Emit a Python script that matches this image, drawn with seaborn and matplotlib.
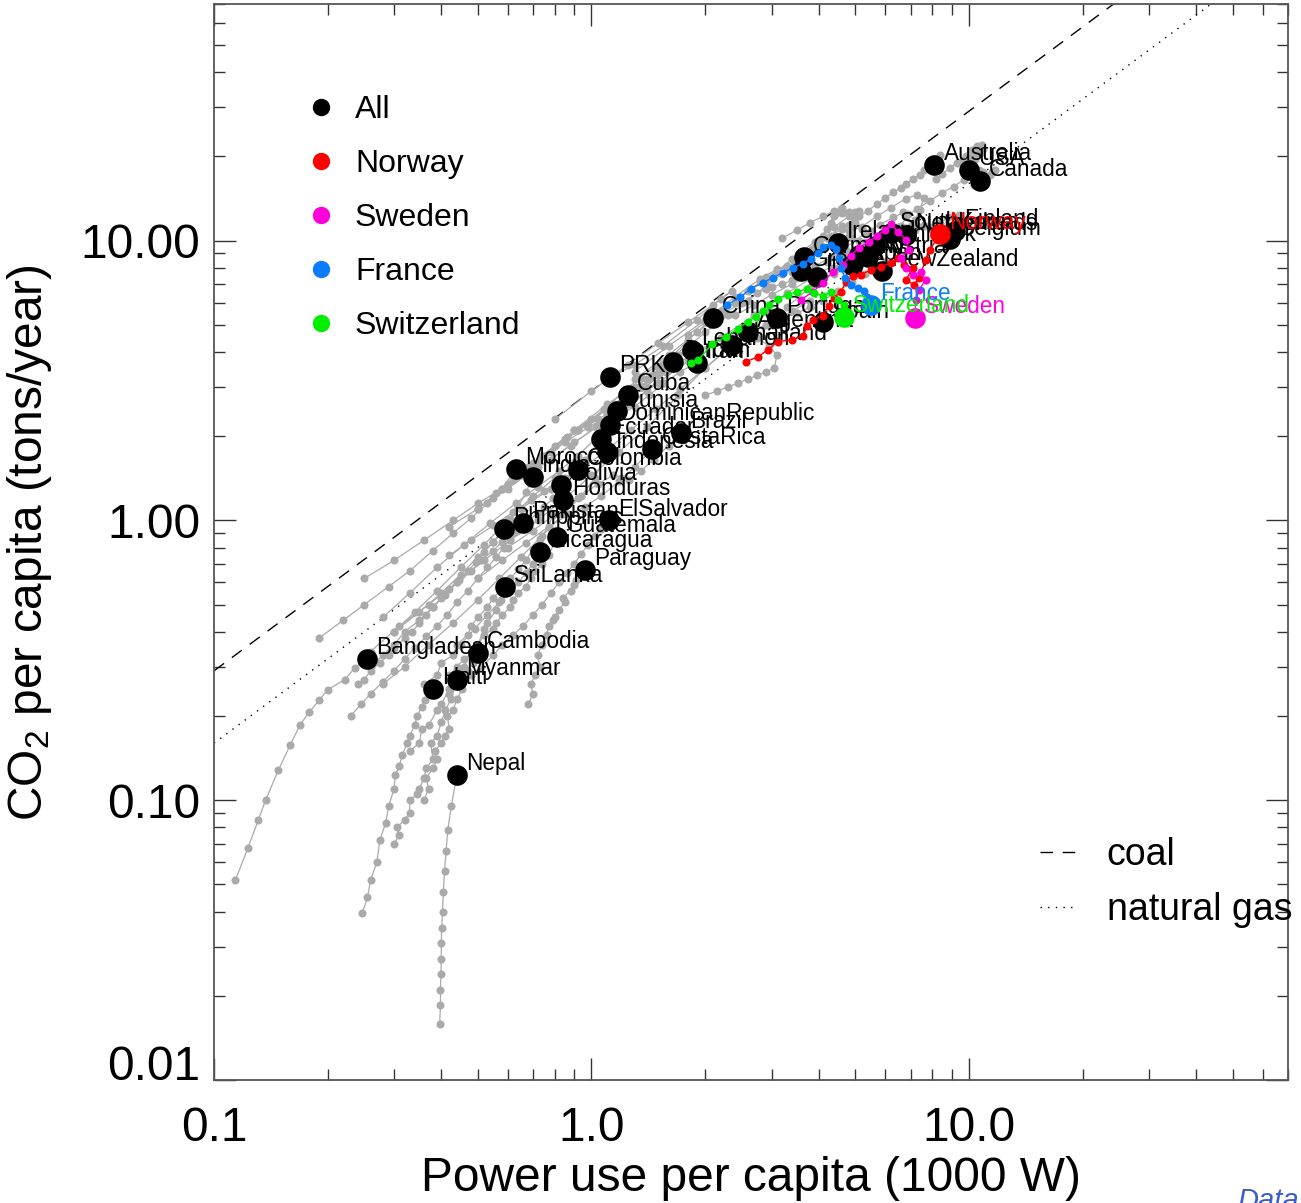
import numpy as np
import pandas as pd
import matplotlib
matplotlib.use("Agg")
import matplotlib.pyplot as plt
from matplotlib.lines import Line2D
from matplotlib.ticker import LogLocator, NullFormatter
import seaborn as sns

# CO2 emitted per year by one kW of continuous primary power (tons)
coal_factor = 2.9
gas_factor = 1.6

# Country histories: power use per capita (kW) and CO2 per capita (t/yr),
# oldest year first; the last entry is the most recent year.
gray_names = [
    "USA", "Canada", "Australia", "Finland", "Belgium", "Netherlands",
    "SouthKorea", "Ireland", "Germany", "NewZealand", "Japan", "UK",
    "Austria", "Denmark", "Italy", "Greece", "Spain", "Portugal", "China",
    "Argentina", "Thailand", "Lebanon", "Jordan", "Iran", "PRK", "Cuba",
    "Tunisia", "DominicanRepublic", "Ecuador", "Indonesia", "Brazil",
    "CostaRica", "Morocco", "India", "Colombia", "Bolivia", "Honduras",
    "Pakistan", "Philippines", "ElSalvador", "Guatemala", "Nicaragua",
    "Paraguay", "SriLanka", "Bangladesh", "Cambodia", "Myanmar", "Haiti",
    "Nepal",
]
gray_power = [
    [8.2, 8.5, 8.9, 9.3, 9.8, 10.2, 10.5, 10.3, 10.6, 10.8, 10.4, 9.9, 9.6, 9.7, 10.0, 10.3, 10.6, 10.9, 10.7, 10.4, 10.0],
    [6.8, 7.3, 7.9, 8.5, 9.1, 9.7, 10.2, 10.6, 10.9, 10.5, 10.3, 10.7, 11.0, 11.4, 11.7, 11.5, 11.1, 10.7],
    [4.2, 4.6, 5.0, 5.4, 5.7, 6.0, 6.3, 6.6, 6.8, 7.1, 7.4, 7.6, 7.9, 8.2, 8.4, 8.1],
    [3.3, 3.8, 4.4, 5.0, 5.6, 6.1, 6.5, 6.8, 7.2, 7.6, 8.0, 8.4, 8.8, 9.4, 9.2],
    [5.2, 5.7, 6.2, 6.8, 7.3, 7.6, 7.4, 7.2, 7.3, 7.6, 8.0, 8.4, 8.8, 8.9],
    [4.2, 4.7, 5.3, 5.8, 6.3, 6.7, 6.9, 6.6, 6.5, 6.8, 7.0, 7.2, 7.1, 6.8],
    [0.42, 0.5, 0.6, 0.72, 0.88, 1.05, 1.25, 1.5, 1.8, 2.2, 2.7, 3.3, 4.0, 4.7, 5.4, 6.2],
    [1.8, 2.0, 2.2, 2.4, 2.6, 2.8, 2.9, 3.1, 3.3, 3.6, 3.9, 4.3, 4.6, 4.5],
    [3.2, 3.5, 3.8, 4.1, 4.4, 4.6, 4.5, 4.4, 4.3, 4.2, 4.1, 4.0, 3.85, 3.65],
    [2.6, 2.9, 3.2, 3.5, 3.8, 4.1, 4.5, 4.9, 5.3, 5.6, 6.0, 5.9],
    [1.3, 1.6, 2.0, 2.4, 2.8, 3.1, 3.3, 3.4, 3.6, 3.9, 4.3, 4.6, 4.8, 4.9],
    [4.4, 4.6, 4.8, 5.0, 5.1, 5.0, 4.8, 4.8, 4.9, 5.1, 5.3, 5.4, 5.3, 5.1],
    [2.4, 2.7, 3.0, 3.4, 3.7, 3.9, 4.1, 4.4, 4.7, 5.0, 5.3, 5.4],
    [2.9, 3.4, 3.9, 4.4, 4.8, 5.1, 5.0, 4.8, 4.9, 5.2, 5.5, 5.8, 5.65],
    [1.3, 1.6, 1.9, 2.2, 2.5, 2.75, 2.9, 3.0, 3.2, 3.4, 3.6, 3.85, 3.95],
    [0.7, 0.9, 1.1, 1.4, 1.7, 2.0, 2.3, 2.6, 2.9, 3.2, 3.5, 3.6],
    [0.9, 1.1, 1.35, 1.6, 1.9, 2.2, 2.45, 2.7, 3.0, 3.4, 3.8, 4.1],
    [0.65, 0.78, 0.92, 1.08, 1.27, 1.48, 1.72, 2.0, 2.3, 2.6, 2.95, 3.1],
    [0.5, 0.56, 0.62, 0.68, 0.74, 0.8, 0.86, 0.92, 0.98, 1.04, 1.1, 1.2, 1.35, 1.55, 1.8, 2.1],
    [2.0, 2.15, 2.3, 2.45, 2.6, 2.75, 2.9, 3.05, 3.1, 2.95, 2.75, 2.6],
    [0.26, 0.31, 0.37, 0.44, 0.52, 0.61, 0.72, 0.85, 1.0, 1.18, 1.4, 1.7, 2.0, 2.35],
    [1.0, 1.15, 1.3, 1.45, 1.55, 1.4, 1.5, 1.65, 1.8, 1.85],
    [0.55, 0.65, 0.78, 0.92, 1.08, 1.22, 1.35, 1.48, 1.6, 1.64],
    [0.6, 0.72, 0.85, 0.98, 1.1, 1.2, 1.3, 1.42, 1.56, 1.72, 1.9],
    [0.8, 1.0, 1.25, 1.5, 1.8, 2.1, 2.35, 2.2, 1.9, 1.55, 1.3, 1.12],
    [0.75, 0.85, 0.97, 1.1, 1.22, 1.35, 1.5, 1.58, 1.4, 1.28, 1.25],
    [0.25, 0.3, 0.36, 0.43, 0.5, 0.58, 0.67, 0.78, 0.9, 1.03, 1.17],
    [0.28, 0.33, 0.39, 0.46, 0.54, 0.63, 0.72, 0.82, 0.92, 1.02, 1.12],
    [0.3, 0.34, 0.39, 0.45, 0.52, 0.6, 0.7, 0.8, 0.88, 0.96, 1.06],
    [0.28, 0.32, 0.37, 0.43, 0.5, 0.57, 0.65, 0.74, 0.84, 0.94, 1.02, 1.1],
    [0.6, 0.7, 0.8, 0.92, 1.04, 1.14, 1.2, 1.26, 1.35, 1.46, 1.6, 1.73],
    [0.5, 0.58, 0.67, 0.77, 0.87, 0.96, 1.06, 1.18, 1.3, 1.45],
    [0.19, 0.22, 0.25, 0.29, 0.33, 0.38, 0.43, 0.48, 0.53, 0.58, 0.63],
    [0.24, 0.25, 0.26, 0.275, 0.29, 0.3, 0.32, 0.335, 0.35, 0.365, 0.38, 0.4, 0.42, 0.445, 0.47, 0.495, 0.52, 0.55, 0.58, 0.61, 0.64, 0.67, 0.7],
    [0.42, 0.48, 0.55, 0.62, 0.69, 0.75, 0.8, 0.85, 0.89, 0.92],
    [0.26, 0.28, 0.3, 0.32, 0.35, 0.38, 0.41, 0.44, 0.48, 0.51, 0.55, 0.58, 0.62, 0.65, 0.68, 0.72, 0.75, 0.79, 0.83],
    [0.36, 0.39, 0.4, 0.43, 0.44, 0.47, 0.48, 0.5, 0.53, 0.55, 0.58, 0.61, 0.64, 0.67, 0.7, 0.73, 0.77, 0.79, 0.84],
    [0.23, 0.245, 0.26, 0.28, 0.3, 0.32, 0.34, 0.365, 0.39, 0.415, 0.44, 0.47, 0.5, 0.53, 0.56, 0.585, 0.61, 0.635, 0.66],
    [0.3, 0.35, 0.4, 0.45, 0.5, 0.55, 0.59, 0.61, 0.6, 0.585],
    [0.42, 0.45, 0.48, 0.51, 0.55, 0.58, 0.62, 0.66, 0.7, 0.74, 0.78, 0.82, 0.86, 0.9, 0.94, 0.98, 1.02, 1.06, 1.11],
    [0.42, 0.44, 0.46, 0.49, 0.5, 0.52, 0.55, 0.56, 0.58, 0.61, 0.62, 0.64, 0.67, 0.69, 0.71, 0.74, 0.77, 0.81],
    [0.45, 0.49, 0.53, 0.57, 0.61, 0.64, 0.67, 0.7, 0.72, 0.73],
    [0.68, 0.7, 0.69, 0.71, 0.73, 0.72, 0.74, 0.76, 0.77, 0.79, 0.8, 0.82, 0.85, 0.84, 0.88, 0.9, 0.91, 0.94, 0.96],
    [0.33, 0.35, 0.355, 0.37, 0.39, 0.40, 0.42, 0.44, 0.445, 0.46, 0.48, 0.5, 0.52, 0.53, 0.56, 0.575, 0.59],
    [0.114, 0.123, 0.131, 0.137, 0.148, 0.159, 0.169, 0.179, 0.19, 0.2, 0.222, 0.236, 0.254],
    [0.36, 0.37, 0.365, 0.38, 0.39, 0.385, 0.40, 0.41, 0.42, 0.415, 0.43, 0.44, 0.455, 0.45, 0.47, 0.485, 0.5],
    [0.3, 0.31, 0.305, 0.32, 0.33, 0.33, 0.345, 0.35, 0.36, 0.365, 0.38, 0.375, 0.39, 0.4, 0.41, 0.425, 0.44],
    [0.247, 0.255, 0.26, 0.27, 0.275, 0.285, 0.29, 0.30, 0.302, 0.31, 0.315, 0.325, 0.33, 0.34, 0.345, 0.355, 0.362, 0.37, 0.38],
    [0.396, 0.398, 0.398, 0.399, 0.4, 0.4, 0.401, 0.403, 0.405, 0.408, 0.412, 0.416, 0.425, 0.44],
]
gray_co2 = [
    [16.6, 17.3, 18.2, 19.0, 20.1, 21.0, 21.7, 21.0, 21.6, 22.0, 21.2, 19.9, 19.2, 19.4, 19.8, 20.3, 20.8, 21.2, 20.6, 19.6, 17.9],
    [12.2, 13.0, 13.9, 14.8, 15.6, 16.5, 17.2, 17.8, 17.6, 16.5, 15.8, 16.2, 16.6, 17.2, 17.9, 17.6, 17.0, 16.3],
    [10.2, 11.0, 11.9, 12.8, 13.5, 14.2, 14.9, 15.4, 15.9, 16.6, 17.2, 17.9, 18.7, 19.6, 20.3, 18.7],
    [5.8, 6.8, 8.0, 9.1, 10.0, 10.8, 11.2, 10.6, 10.9, 11.3, 11.0, 11.6, 12.1, 12.3, 10.8],
    [11.2, 12.2, 13.1, 14.1, 14.6, 14.2, 12.9, 11.8, 11.3, 11.4, 11.2, 11.1, 10.9, 10.1],
    [8.4, 9.4, 10.6, 11.4, 12.1, 12.6, 12.4, 11.3, 10.9, 11.1, 11.3, 11.5, 11.2, 10.5],
    [0.95, 1.1, 1.3, 1.55, 1.85, 2.2, 2.6, 3.1, 3.7, 4.5, 5.4, 6.5, 7.6, 8.7, 9.6, 10.6],
    [4.6, 5.1, 5.6, 6.0, 6.6, 7.1, 7.4, 7.8, 8.1, 8.6, 9.4, 10.4, 11.3, 9.8],
    [10.2, 10.9, 11.6, 12.2, 12.8, 13.1, 12.7, 12.3, 11.6, 11.0, 10.4, 9.9, 9.3, 8.7],
    [4.7, 5.0, 5.3, 5.5, 5.8, 6.1, 6.6, 7.1, 7.6, 8.1, 8.4, 7.8],
    [3.4, 4.2, 5.2, 6.3, 7.3, 7.9, 8.0, 7.7, 7.7, 8.1, 8.7, 9.0, 9.1, 8.2],
    [12.2, 12.5, 12.7, 12.6, 12.2, 11.6, 10.8, 10.4, 10.2, 10.0, 9.9, 9.7, 9.5, 8.9],
    [5.4, 5.9, 6.4, 7.0, 7.4, 7.6, 7.4, 7.6, 7.9, 8.5, 9.1, 8.7],
    [7.2, 8.6, 9.9, 11.2, 12.2, 12.8, 12.3, 11.4, 11.1, 11.0, 10.8, 10.5, 9.6],
    [3.2, 3.9, 4.7, 5.4, 6.0, 6.5, 6.7, 6.8, 7.0, 7.2, 7.5, 7.8, 7.4],
    [1.6, 2.1, 2.6, 3.2, 3.9, 4.7, 5.4, 6.1, 6.9, 7.6, 8.4, 7.8],
    [2.1, 2.5, 3.0, 3.5, 4.0, 4.5, 4.7, 4.8, 5.1, 5.6, 6.1, 5.1],
    [1.1, 1.3, 1.5, 1.75, 2.1, 2.5, 2.95, 3.5, 4.1, 4.8, 5.6, 5.3],
    [1.1, 1.25, 1.4, 1.55, 1.7, 1.85, 1.98, 2.1, 2.2, 2.3, 2.4, 2.6, 3.0, 3.6, 4.4, 5.3],
    [2.8, 2.9, 3.0, 3.1, 3.2, 3.3, 3.4, 3.5, 3.9, 4.2, 4.5, 4.7],
    [0.34, 0.42, 0.5, 0.6, 0.72, 0.85, 1.0, 1.2, 1.45, 1.75, 2.15, 2.8, 3.5, 4.25],
    [2.3, 2.6, 3.0, 3.3, 3.5, 3.0, 3.3, 3.8, 4.3, 4.07],
    [1.2, 1.45, 1.75, 2.1, 2.5, 2.9, 3.25, 3.55, 3.85, 3.69],
    [1.35, 1.6, 1.9, 2.15, 2.35, 2.4, 2.55, 2.8, 3.1, 3.4, 3.66],
    [2.3, 2.9, 3.6, 4.3, 5.1, 5.9, 6.6, 6.2, 5.2, 4.2, 3.6, 3.25],
    [1.7, 1.95, 2.2, 2.5, 2.75, 3.0, 3.3, 3.4, 2.9, 2.6, 2.8],
    [0.62, 0.72, 0.85, 1.0, 1.15, 1.3, 1.45, 1.65, 1.9, 2.15, 2.45],
    [0.45, 0.55, 0.68, 0.82, 0.98, 1.15, 1.32, 1.5, 1.7, 1.95, 2.2],
    [0.4, 0.47, 0.56, 0.68, 0.82, 1.0, 1.22, 1.42, 1.55, 1.65, 1.95],
    [0.26, 0.3, 0.36, 0.43, 0.52, 0.62, 0.74, 0.88, 1.05, 1.22, 1.42, 1.75],
    [0.8, 0.92, 1.05, 1.2, 1.35, 1.45, 1.42, 1.4, 1.5, 1.65, 1.85, 2.05],
    [0.62, 0.72, 0.83, 0.95, 1.05, 1.12, 1.22, 1.38, 1.55, 1.8],
    [0.38, 0.44, 0.5, 0.58, 0.66, 0.78, 0.9, 1.02, 1.15, 1.3, 1.53],
    [0.26, 0.27, 0.29, 0.31, 0.33, 0.35, 0.38, 0.4, 0.43, 0.46, 0.49, 0.53, 0.57, 0.61, 0.66, 0.71, 0.77, 0.84, 0.92, 1.01, 1.12, 1.26, 1.43],
    [0.75, 0.85, 0.96, 1.07, 1.18, 1.27, 1.35, 1.42, 1.47, 1.51],
    [0.3, 0.33, 0.36, 0.4, 0.44, 0.49, 0.54, 0.6, 0.66, 0.72, 0.78, 0.84, 0.9, 0.95, 1.0, 1.06, 1.12, 1.2, 1.34],
    [0.26, 0.28, 0.31, 0.33, 0.36, 0.39, 0.42, 0.45, 0.49, 0.53, 0.57, 0.62, 0.67, 0.72, 0.79, 0.86, 0.95, 1.05, 1.18],
    [0.2, 0.22, 0.24, 0.265, 0.29, 0.32, 0.35, 0.385, 0.42, 0.46, 0.51, 0.56, 0.62, 0.68, 0.74, 0.8, 0.86, 0.92, 0.98],
    [0.4, 0.47, 0.55, 0.64, 0.74, 0.84, 0.92, 0.97, 0.95, 0.93],
    [0.24, 0.26, 0.28, 0.3, 0.33, 0.36, 0.39, 0.42, 0.46, 0.5, 0.55, 0.6, 0.65, 0.7, 0.76, 0.82, 0.88, 0.93, 1.0],
    [0.28, 0.3, 0.32, 0.34, 0.36, 0.39, 0.41, 0.43, 0.46, 0.49, 0.52, 0.55, 0.58, 0.62, 0.66, 0.7, 0.75, 0.87],
    [0.36, 0.41, 0.46, 0.51, 0.56, 0.6, 0.65, 0.7, 0.74, 0.77],
    [0.22, 0.24, 0.26, 0.28, 0.3, 0.33, 0.36, 0.39, 0.42, 0.44, 0.45, 0.48, 0.51, 0.53, 0.56, 0.59, 0.61, 0.63, 0.665],
    [0.15, 0.16, 0.18, 0.185, 0.21, 0.22, 0.25, 0.26, 0.29, 0.3, 0.34, 0.36, 0.41, 0.43, 0.48, 0.52, 0.58],
    [0.052, 0.0675, 0.085, 0.1, 0.128, 0.157, 0.186, 0.207, 0.228, 0.248, 0.27, 0.297, 0.32],
    [0.1, 0.11, 0.12, 0.13, 0.14, 0.15, 0.16, 0.17, 0.18, 0.2, 0.21, 0.23, 0.25, 0.27, 0.29, 0.31, 0.335],
    [0.07, 0.075, 0.08, 0.085, 0.09, 0.1, 0.105, 0.11, 0.12, 0.13, 0.14, 0.16, 0.17, 0.19, 0.21, 0.23, 0.27],
    [0.0395, 0.045, 0.052, 0.06, 0.072, 0.083, 0.095, 0.11, 0.123, 0.133, 0.145, 0.16, 0.17, 0.185, 0.2, 0.215, 0.229, 0.24, 0.25],
    [0.0158, 0.0185, 0.021, 0.024, 0.027, 0.031, 0.035, 0.04, 0.047, 0.056, 0.066, 0.078, 0.095, 0.123],
]

# Highlighted countries
norway_power = [2.56, 2.76, 2.93, 3.11, 3.39, 3.63, 3.72, 3.86, 4.10, 4.25, 4.38,
                4.58, 4.72, 4.92, 5.17, 5.50, 5.84, 6.21, 6.48, 6.72, 7.10, 6.81,
                7.15, 7.37, 7.69, 7.88, 8.38]
norway_co2 = [3.69, 3.84, 4.07, 4.35, 4.42, 4.57, 4.96, 5.21, 5.38, 5.85, 6.25,
              6.56, 7.12, 7.48, 7.55, 7.86, 8.06, 8.33, 8.68, 8.19, 7.99, 7.24,
              6.95, 7.36, 8.54, 9.27, 10.57]
sweden_power = [3.58, 3.86, 4.10, 4.36, 4.63, 4.86, 5.11, 5.43, 5.70, 5.99, 6.21,
                6.48, 6.81, 6.93, 6.60, 6.81, 7.10, 7.46, 7.69, 7.37, 7.23, 7.19]
sweden_co2 = [6.14, 6.56, 7.07, 7.73, 8.19, 8.82, 9.42, 9.90, 10.40, 10.93, 11.48,
              10.75, 10.07, 9.27, 8.68, 7.99, 7.55, 7.73, 7.24, 6.67, 6.14, 5.30]
france_power = [2.29, 2.48, 2.64, 2.84, 3.02, 3.21, 3.41, 3.63, 3.81, 3.98, 4.10,
                4.31, 4.44, 4.52, 4.58, 4.69, 4.86, 5.08, 5.27, 5.36, 5.50]
france_co2 = [5.89, 6.30, 6.72, 7.07, 7.36, 7.67, 7.99, 8.26, 8.61, 9.04, 9.50,
              9.66, 9.35, 8.68, 7.99, 7.36, 6.95, 6.78, 6.61, 6.30, 5.89]
swiss_power = [1.83, 1.92, 2.09, 2.27, 2.44, 2.59, 2.72, 2.84, 2.95, 3.11, 3.31,
               3.50, 3.72, 3.88, 4.10, 4.31, 4.49, 4.66, 4.66]
swiss_co2 = [3.66, 3.75, 4.28, 4.53, 4.84, 5.13, 5.34, 5.61, 5.89, 6.19, 6.40,
             6.56, 6.72, 6.51, 6.35, 6.56, 6.14, 5.89, 5.34]

highlight_names = ["Norway", "Sweden", "France", "Switzerland"]
highlight_colors = ["#ff0000", "#ff00dc", "#0a7cff", "#00ee00"]

legend_labels = ["All", "Norway", "Sweden", "France", "Switzerland"]
legend_colors = ["#000000", "#ff0000", "#ff00dc", "#0a7cff", "#00ee00"]

x_ticks = [0.1, 1.0, 10.0]
x_tick_labels = ["0.1", "1.0", "10.0"]
y_ticks = [0.01, 0.1, 1.0, 10.0]
y_tick_labels = ["0.01", "0.10", "1.00", "10.00"]

sns.set_theme(style="ticks")
plt.rcParams["font.family"] = ["Liberation Sans", "DejaVu Sans"]
plt.rcParams["mathtext.fontset"] = "custom"
plt.rcParams["mathtext.rm"] = "Liberation Sans"
plt.rcParams["mathtext.it"] = "Liberation Sans:italic"
plt.rcParams["text.color"] = "black"
plt.rcParams["axes.labelcolor"] = "black"

fig = plt.figure(figsize=(13.01, 12.03), dpi=100)
ax = fig.add_axes([0.1645, 0.1022, 0.8255, 0.8944])
ax.set_xscale("log")
ax.set_yscale("log")
ax.set_xlim(0.1, 70)
ax.set_ylim(0.01, 70)

# emission lines for pure coal and pure natural gas
ref_x = np.array([0.1, 70.0])
ax.plot(ref_x, coal_factor * ref_x, color="black", lw=1.0, ls=(0, (9, 7)), zorder=1)
ax.plot(ref_x, gas_factor * ref_x, color="black", lw=1.0, ls=(0, (1, 4.5)), zorder=1)

rows = []
for name, pw, co in zip(gray_names, gray_power, gray_co2):
    for step, (p, c) in enumerate(zip(pw, co)):
        rows.append((name, step, p, c))
hist = pd.DataFrame(rows, columns=["country", "step", "power", "co2"])

sns.lineplot(data=hist, x="power", y="co2", units="country", estimator=None,
             sort=False, color="#aaaaaa", lw=0.9, marker="o", markersize=5.8,
             markeredgewidth=0, legend=False, ax=ax, zorder=2)

latest = hist.groupby("country", sort=False).tail(1)
sns.scatterplot(data=latest, x="power", y="co2", color="black", s=220,
                linewidth=0, legend=False, ax=ax, zorder=3)
for _, r in latest.iterrows():
    ax.annotate(r["country"], (r["power"], r["co2"]), xytext=(6.5, 3.5),
                textcoords="offset points", fontsize=16.3, color="black",
                ha="left", va="baseline", zorder=4)

highlight_power = [norway_power, sweden_power, france_power, swiss_power]
highlight_co2 = [norway_co2, sweden_co2, france_co2, swiss_co2]
for name, pw, co, col in zip(highlight_names, highlight_power, highlight_co2, highlight_colors):
    sns.lineplot(x=pw, y=co, sort=False, estimator=None, color=col, lw=1.0,
                 marker="o", markersize=5.8, markeredgewidth=0, ax=ax, zorder=5)
    sns.scatterplot(x=[pw[-1]], y=[co[-1]], color=col, s=220, linewidth=0,
                    legend=False, ax=ax, zorder=6)
    ax.annotate(name, (pw[-1], co[-1]), xytext=(6.5, 3.5), textcoords="offset points",
                fontsize=16.3, color=col, ha="left", va="baseline", zorder=7)

# axes styling
ax.set_xticks(x_ticks, labels=x_tick_labels)
ax.set_yticks(y_ticks, labels=y_tick_labels)
ax.xaxis.set_minor_locator(LogLocator(base=10, subs=np.arange(2, 10)))
ax.yaxis.set_minor_locator(LogLocator(base=10, subs=np.arange(2, 10)))
ax.xaxis.set_minor_formatter(NullFormatter())
ax.yaxis.set_minor_formatter(NullFormatter())
ax.tick_params(which="both", direction="in", top=True, right=True, colors="#333333",
               labelcolor="black", width=1.0)
ax.tick_params(which="major", length=16, labelsize=34.5)
ax.tick_params(which="minor", length=8)
ax.tick_params(axis="x", which="major", pad=19)
ax.tick_params(axis="y", which="major", pad=10)
ax.yaxis.get_major_ticks()[0].label1.set_va("baseline")
for sp in ax.spines.values():
    sp.set_color("#555555")
    sp.set_linewidth(1.3)

ax.set_xlabel("Power use per capita (1000 W)", fontsize=34.5, labelpad=3)
ax.set_ylabel(r"CO$_2$ per capita (tons/year)", fontsize=34.5, labelpad=19)

handles = [Line2D([0], [0], marker="o", ls="none", markerfacecolor=c,
                  markeredgewidth=0, markersize=12.5) for c in legend_colors]
leg1 = ax.legend(handles, legend_labels, loc="upper left", bbox_to_anchor=(0.0847, 0.9154),
                 frameon=False, fontsize=23, handlelength=1.0, handletextpad=0.565,
                 labelspacing=0.75, borderaxespad=0, borderpad=0)
ax.add_artist(leg1)

fuel_handles = [Line2D([0], [0], color="black", lw=1.0, ls=(0, (9, 7))),
                Line2D([0], [0], color="black", lw=1.0, ls=(0, (1, 4.5)))]
ax.legend(fuel_handles, ["coal", "natural gas"], loc="upper left",
          bbox_to_anchor=(0.769, 0.2258), frameon=False, fontsize=27,
          handlelength=0.93, handletextpad=0.85, labelspacing=0.5,
          borderaxespad=0, borderpad=0)

fig.text(0.9508, 0.0133, "Data", color="#3a5fcd", style="italic", fontsize=21,
         ha="left", va="top")

fig.savefig("out.png", dpi=100)
